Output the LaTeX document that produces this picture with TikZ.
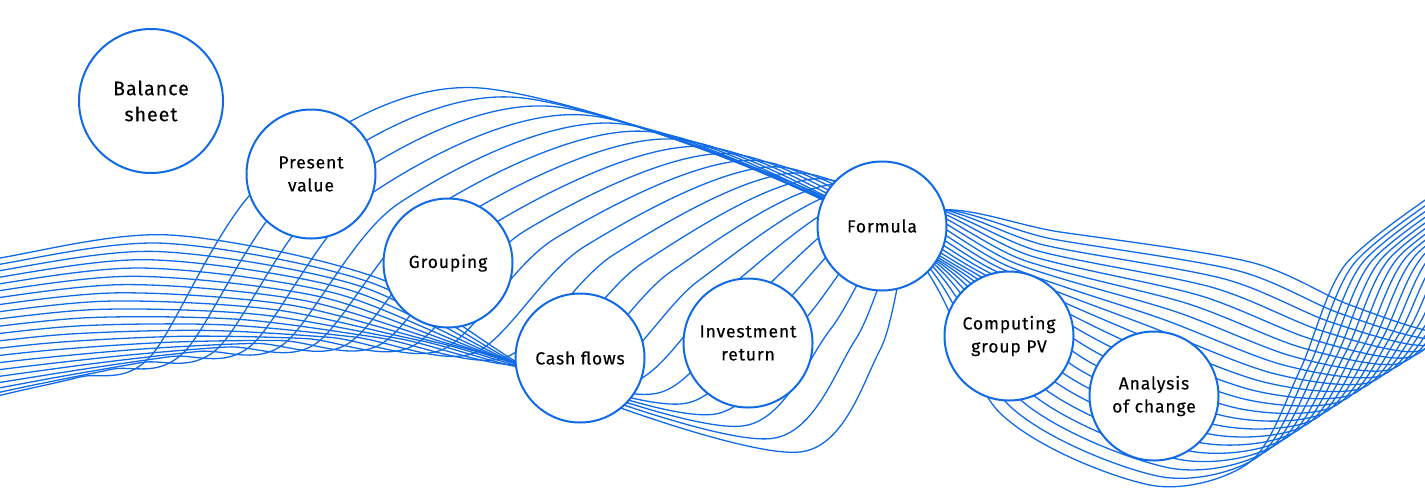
\documentclass[tikz,border=0pt]{standalone}
\usepackage{fontspec}
\setmainfont{Fira Sans}[LetterSpace=5,FakeBold=0.35]
\usetikzlibrary{calc}
\definecolor{wblue}{RGB}{16,106,230}
\begin{document}
\begin{tikzpicture}[x=1pt,y=-1pt,
  wave/.style={draw=wblue,line width=1.3pt},
  bubble/.style={circle,draw=wblue,line width=2pt,fill=white,inner sep=0pt,
    minimum size=129pt,align=center,font=\fontsize{17.5}{23}\selectfont},
  bigbubble/.style={bubble,minimum size=144pt,font=\fontsize{19.6}{26}\selectfont}]
\useasboundingbox (0,0) rectangle (1425,491);
% key curve A (t=0)
\coordinate (A0) at (-150,290);  \coordinate (A1) at (0,258);
\coordinate (A2) at (170,235);   \coordinate (A3) at (383,280);
\coordinate (A4) at (560,385);   \coordinate (A5) at (800,452);
\coordinate (A6) at (880,350);   \coordinate (A7) at (925,215);
\coordinate (A8) at (1060,232);  \coordinate (A9) at (1250,262);
\coordinate (A10) at (1350,305); \coordinate (A11) at (1445,333);
\coordinate (A12) at (1490,300); \coordinate (A13) at (1530,240);
\coordinate (A14) at (1620,190);
% middle control curve M
\coordinate (M0) at (-175,345);  \coordinate (M1) at (-65,334.5);
\coordinate (M2) at (105,321.5); \coordinate (M3) at (263.5,307.5);
\coordinate (M4) at (410,293);   \coordinate (M5) at (505,305.5);
\coordinate (M6) at (627.5,235); \coordinate (M7) at (877.5,188.5);
\coordinate (M8) at (989,311);   \coordinate (M9) at (1115,352.5);
\coordinate (M10) at (1250,395); \coordinate (M11) at (1347.5,397.5);
\coordinate (M12) at (1395,335); \coordinate (M13) at (1437.5,252.5);
\coordinate (M14) at (1530,190);
% key curve B (t=1)
\coordinate (B0) at (-200,440);  \coordinate (B1) at (-130,425);
\coordinate (B2) at (-60,410);   \coordinate (B3) at (10,393);
\coordinate (B4) at (80,377);    \coordinate (B5) at (150,357);
\coordinate (B6) at (265,180);   \coordinate (B7) at (480,88);
\coordinate (B8) at (882,226);   \coordinate (B9) at (1000,413);
\coordinate (B10) at (1150,485); \coordinate (B11) at (1250,462);
\coordinate (B12) at (1300,370); \coordinate (B13) at (1345,265);
\coordinate (B14) at (1440,190);
\begin{scope}
\clip (0,0) rectangle (1425,491);
\foreach \i in {0,...,21}{
  \pgfmathsetmacro\t{\i/21}
  \pgfmathsetmacro\ca{(1-\t)^2}
  \pgfmathsetmacro\cm{2*\t*(1-\t)}
  \pgfmathsetmacro\cb{\t^2}
  \foreach \k in {0,...,14}{
    \coordinate (C\k) at ($\ca*(A\k)+\cm*(M\k)+\cb*(B\k)$);
  }
  \draw[wave] plot[smooth] coordinates {(C0) (C1) (C2) (C3) (C4) (C5) (C6) (C7) (C8) (C9) (C10) (C11) (C12) (C13) (C14)};
}
\end{scope}
\node[bigbubble] (bal) at (151,101) {Balance\\sheet};
\node[bubble] (pv) at (311,174) {Present\\value};
\node[bubble] (grp) at (448,263) {Grouping};
\node[bubble] (cf) at (580,358) {Cash flows};
\node[bubble] (ir) at (748,343) {Investment\\return};
\node[bubble] (frm) at (882,226) {Formula};
\node[bubble] (cgp) at (1009,336) {Computing\\group PV};
\node[bubble] (aoc) at (1154,396) {Analysis\\of change};
\end{tikzpicture}
\end{document}
